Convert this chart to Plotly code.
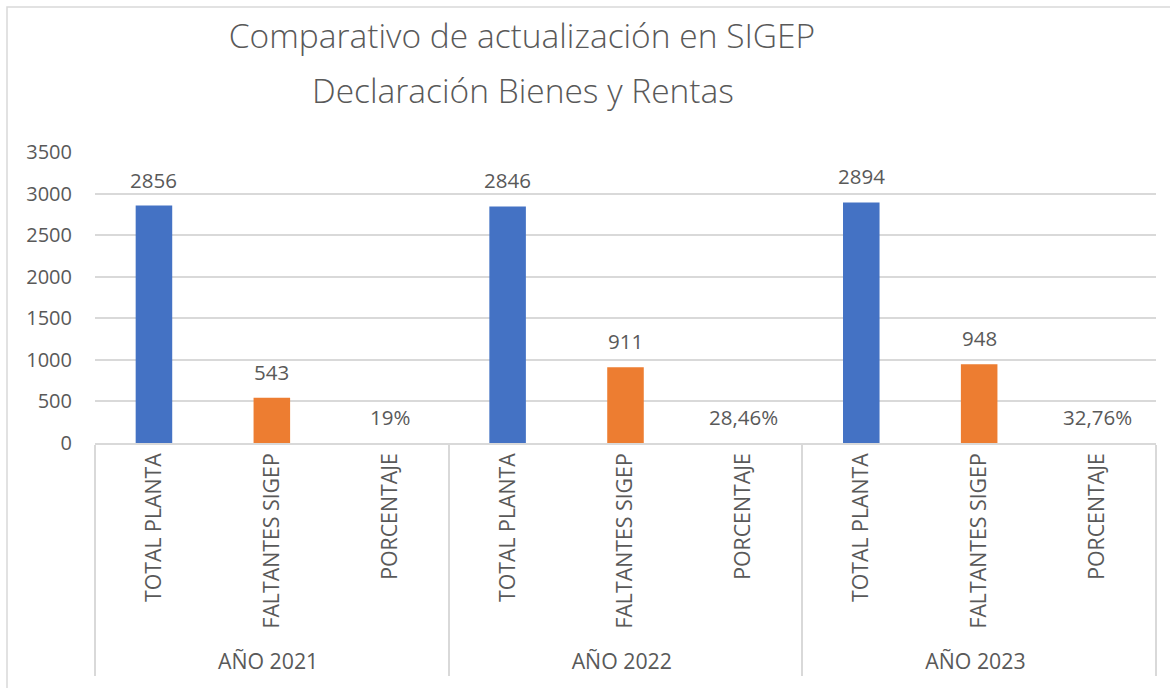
import plotly.graph_objects as go

years = ["AÑO 2021", "AÑO 2022", "AÑO 2023"]
categories = ["TOTAL PLANTA", "FALTANTES SIGEP", "PORCENTAJE"]
total_planta = [2856, 2846, 2894]
faltantes_sigep = [543, 911, 948]
porcentaje = [0.19, 0.2846, 0.3276]

cat_colors = {"TOTAL PLANTA": "#4472C4", "FALTANTES SIGEP": "#ED7D31", "PORCENTAJE": "rgba(165,165,165,0)"}


def pct_label(v):
    s = f"{v * 100:.2f}".rstrip("0").rstrip(".")
    return s.replace(".", ",") + "%"


x_year, x_cat, y_val, labels, colors = [], [], [], [], []
for i, yr in enumerate(years):
    vals = [total_planta[i], faltantes_sigep[i], porcentaje[i]]
    for c, v in zip(categories, vals):
        x_year.append(yr)
        x_cat.append(c)
        y_val.append(v)
        labels.append(pct_label(v) if c == "PORCENTAJE" else str(v))
        colors.append(cat_colors[c])

W, H = 1170, 688
L, R, T, B = 95, 14, 152, 245
pw, ph = W - L - R, H - T - B

TXT = "#595959"
GRID = "#D9D9D9"
FONT = "Open Sans"

fig = go.Figure()
fig.add_trace(go.Bar(
    x=[x_year, x_cat], y=y_val,
    marker=dict(color=colors, line=dict(width=0)),
    hoverinfo="skip",
))

annotations = []
for i, (v, t) in enumerate(zip(y_val, labels)):
    annotations.append(dict(
        x=i, y=v, xref="x", yref="y", text=t, showarrow=False,
        yanchor="middle", yshift=26,
        font=dict(family=FONT, size=20.5, color=TXT),
    ))

# second title line
annotations.append(dict(
    x=(523 - L) / pw, y=(H - B - 90) / ph, xref="paper", yref="paper",
    text="Declaración Bienes y Rentas", showarrow=False,
    xanchor="center", yanchor="middle",
    font=dict(family=FONT, size=33.5, color=TXT, weight=300),
))

fig.update_layout(
    width=W, height=H,
    margin=dict(l=L, r=R, t=T, b=B, pad=0),
    paper_bgcolor="white", plot_bgcolor="white",
    showlegend=False,
    bargap=0.69,
    title=dict(
        text="Comparativo de actualización en SIGEP",
        x=522 / W, xref="container", xanchor="center",
        y=1 - 36 / H, yref="container", yanchor="middle",
        font=dict(family=FONT, size=33.5, color=TXT, weight=300),
    ),
    font=dict(family=FONT, size=20, color=TXT),
    annotations=annotations,
    shapes=[dict(
        type="rect", xref="paper", yref="paper",
        x0=(7 - L) / pw, x1=(W + 20 - L) / pw,
        y0=(H - B - (H + 20)) / ph, y1=(H - B - 7) / ph,
        line=dict(color=GRID, width=1.5), fillcolor="rgba(0,0,0,0)", layer="below",
    )],
)

fig.update_xaxes(
    type="multicategory", tickangle=-90,
    showdividers=True, dividercolor=GRID, dividerwidth=1.5,
    showline=True, linecolor=GRID, linewidth=1.5,
    showgrid=False, ticks="",
    tickfont=dict(family=FONT, size=21.3, color=TXT),
)
fig.update_yaxes(
    range=[0, 3500], dtick=500, tick0=0,
    showgrid=True, gridcolor=GRID, gridwidth=1.5,
    zeroline=False, showline=False, ticks="",
    ticklabelstandoff=22,
    tickfont=dict(family=FONT, size=20, color=TXT),
)

fig.write_html(
    "out.html",
    config={"displayModeBar": False},
    post_script="document.body.style.margin='0';document.body.style.overflow='hidden';",
)
